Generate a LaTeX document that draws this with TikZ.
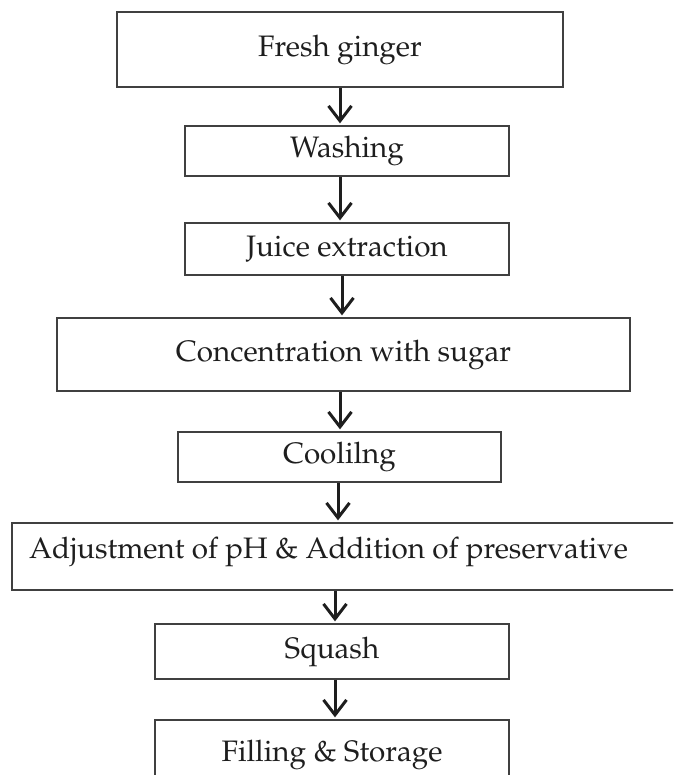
\documentclass[tikz,border=0pt]{standalone}
\usepackage[T1]{fontenc}
\usepackage{mathpazo}
\usetikzlibrary{arrows.meta}
\definecolor{boxline}{HTML}{404040}
\definecolor{inkc}{HTML}{1E1E1E}
\tikzset{
  stepbox/.style={draw=boxline, line width=1.3pt, inner sep=0pt, text=inkc,
    font=\fontsize{29.6}{34}\selectfont},
  flowarrow/.style={draw=inkc, line width=3pt,
    -{Straight Barb[length=15pt,width=23pt,line width=3pt]}, shorten >=2pt},
  steptext/.style={inner sep=0pt, text=inkc, font=\fontsize{29.6}{34}\selectfont}
}
\begin{document}
\begin{tikzpicture}[x=1pt,y=-1pt]
\clip (0,0) rectangle (673,775);
\useasboundingbox (0,0) rectangle (673,775);
\node[stepbox, minimum width=446pt, minimum height=75pt] (b1) at (340,49.5) {Fresh ginger};
\node[stepbox, minimum width=324pt, minimum height=50pt] (b2) at (347,151) {Washing};
\node[stepbox, minimum width=324pt, minimum height=52pt] (b3) at (347,249) {Juice extraction};
\node[stepbox, minimum width=573pt, minimum height=73pt] (b4) at (343.5,354.5) {Concentration with sugar};
\node[stepbox, minimum width=323pt, minimum height=50pt] (b5) at (339.5,457) {Coolilng};
\node[stepbox, minimum width=688pt, minimum height=67pt] (b6) at (356,556.5) {};
\node[steptext, anchor=base west] (t6) at (29,558) {Adjustment of pH \& Addition of preservative};
\node[stepbox, minimum width=354pt, minimum height=55pt] (b7) at (332,651.5) {Squash};
\node[stepbox, minimum width=354pt, minimum height=70pt] (b8) at (332,755) {Filling \& Storage};
\draw[flowarrow] (b1.south) -- (b1.south |- b2.north);
\draw[flowarrow] ([xshift=-7pt]b2.south) -- ([xshift=-7pt]b3.north);
\draw[flowarrow] ([xshift=-5pt]b3.south) -- ([xshift=-5pt]b3.south |- b4.north);
\draw[flowarrow] ([xshift=-3.5pt]b4.south) -- ([xshift=-3.5pt]b4.south |- b5.north);
\draw[flowarrow] ([xshift=-1.5pt]b5.south) -- ([xshift=-1.5pt]b5.south |- b6.north);
\draw[flowarrow] ([xshift=3pt]b7.north |- b6.south) -- ([xshift=3pt]b7.north);
\draw[flowarrow] ([xshift=3pt]b7.south) -- ([xshift=3pt]b8.north);
\end{tikzpicture}
\end{document}
